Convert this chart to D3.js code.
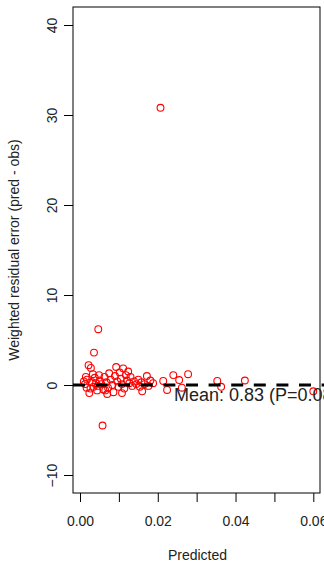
<!DOCTYPE html>
<html>
<head>
<meta charset="utf-8">
<script src="https://cdn.jsdelivr.net/npm/d3@7"></script>
<style>
  body { margin: 0; background: #fff; }
  svg { display: block; font-family: 'Liberation Sans', Arial, sans-serif; }
</style>
</head>
<body>
<script>
// Predicted values and weighted residuals
const predicted = [
  0.0207, 0.0047, 0.0036, 0.0058, 0.0022, 0.0028, 0.0033, 0.0018, 0.0010, 0.0013,
  0.0017, 0.0024, 0.0027, 0.0031, 0.0035, 0.0038, 0.0041, 0.0044, 0.0046, 0.0051,
  0.0055, 0.0060, 0.0063, 0.0068, 0.0072, 0.0075, 0.0079, 0.0083, 0.0086, 0.0090,
  0.0093, 0.0096, 0.0099, 0.0102, 0.0105, 0.0108, 0.0111, 0.0114, 0.0118, 0.0121,
  0.0124, 0.0127, 0.0130, 0.0134, 0.0139, 0.0145, 0.0150, 0.0154, 0.0158, 0.0160,
  0.0166, 0.0172, 0.0176, 0.0181, 0.0188, 0.0214, 0.0224, 0.0240, 0.0255, 0.0262,
  0.0278, 0.0353, 0.0363, 0.0424, 0.0600, 0.0070, 0.0015, 0.0049, 0.0065, 0.0108
];
const residual = [
  30.8, 6.2, 3.6, -4.5, 2.2, 1.9, 1.2, 0.6, 0.4, 0.1,
  -0.3, -0.9, -0.4, 0.3, -0.2, 0.8, 0.2, -0.6, -0.1, 0.5,
  0.1, -0.5, 0.9, 0.3, -0.3, 1.3, 0.6, 0.0, -0.8, 1.0,
  2.0, 0.4, -0.2, 1.4, 0.7, 0.1, 1.85, -0.4, 1.1, 0.5,
  1.5, 0.2, 0.9, -0.1, 0.4, 0.1, 0.6, -0.2, 0.3, -0.7,
  0.1, 1.0, -0.1, 0.5, 0.2, 0.45, -0.55, 1.1, 0.55, -0.3,
  1.2, 0.45, -0.2, 0.5, -0.7, -1.0, 0.9, 1.1, -0.6, -0.9
];

const xTicks = [0, 0.01, 0.02, 0.03, 0.04, 0.05, 0.06];
const yTicks = [-10, 0, 10, 20, 30, 40];
const xTitle = 'Predicted';
const yTitle = 'Weighted residual error (pred - obs)';
const meanLabel = 'Mean: 0.83 (P=0.08)';
const meanLineValue = 0;

const width = 324;
const height = 563;

const box = {left: 73, right: 320, top: 7, bottom: 493};

const x = d3.scaleLinear().domain([0, 0.06]).range([80, 313.3]);
const y = d3.scaleLinear().domain([-10, 40]).range([475, 25]);

const svg = d3.select('body').append('svg')
  .attr('width', width)
  .attr('height', height);

// clip for marks inside the plot region
svg.append('clipPath').attr('id', 'plot-clip')
  .append('rect')
  .attr('x', box.left).attr('y', box.top)
  .attr('width', box.right - box.left)
  .attr('height', box.bottom - box.top);

// Points
svg.append('g')
  .attr('clip-path', 'url(#plot-clip)')
  .selectAll('circle')
  .data(predicted.map((p, i) => ({p: p, r: residual[i]})))
  .enter().append('circle')
  .attr('cx', d => x(d.p))
  .attr('cy', d => y(d.r))
  .attr('r', 3.4)
  .attr('fill', 'none')
  .attr('stroke', '#ff0000')
  .attr('stroke-width', 1.1);

// Dashed zero line
svg.append('line')
  .attr('x1', box.left).attr('x2', width)
  .attr('y1', y(meanLineValue)).attr('y2', y(meanLineValue))
  .attr('stroke', '#000')
  .attr('stroke-width', 3)
  .attr('stroke-dasharray', '12,10.6');

// Frame
svg.append('rect')
  .attr('x', box.left).attr('y', box.top)
  .attr('width', box.right - box.left)
  .attr('height', box.bottom - box.top)
  .attr('fill', 'none')
  .attr('stroke', '#000')
  .attr('stroke-width', 1);

// X-axis
const xAxis = svg.append('g')
  .attr('transform', `translate(0, ${box.bottom})`)
  .call(d3.axisBottom(x)
    .tickValues(xTicks)
    .tickSize(9)
    .tickPadding(14)
    .tickFormat((d, i) => i % 2 === 0 ? d3.format('.2f')(d) : ''));
xAxis.select('.domain').remove();
xAxis.selectAll('text')
  .attr('font-size', 14)
  .attr('fill', '#222')
  .attr('font-family', "'Liberation Sans', Arial, sans-serif");

// Y-axis
const yAxis = svg.append('g')
  .attr('transform', `translate(${box.left}, 0)`)
  .call(d3.axisLeft(y).tickValues(yTicks).tickSize(9).tickFormat(d3.format('d')));
yAxis.select('.domain').remove();
yAxis.selectAll('text')
  .attr('x', null).attr('dy', null)
  .attr('text-anchor', 'middle')
  .attr('font-size', 14)
  .attr('fill', '#222')
  .attr('font-family', "'Liberation Sans', Arial, sans-serif")
  .attr('transform', 'translate(-16, 0) rotate(-90)');

// Titles
svg.append('text')
  .attr('x', (box.left + box.right) / 2 + 1)
  .attr('y', 560)
  .attr('text-anchor', 'middle')
  .attr('font-size', 14)
  .attr('fill', '#222')
  .text(xTitle);

svg.append('text')
  .attr('transform', `translate(19, ${(box.top + box.bottom) / 2}) rotate(-90)`)
  .attr('text-anchor', 'middle')
  .attr('font-size', 14)
  .attr('fill', '#222')
  .text(yTitle);

// Mean annotation
svg.append('text')
  .attr('x', 174)
  .attr('y', 401)
  .attr('font-size', 18)
  .attr('fill', '#222')
  .text(meanLabel);
</script>
</body>
</html>
